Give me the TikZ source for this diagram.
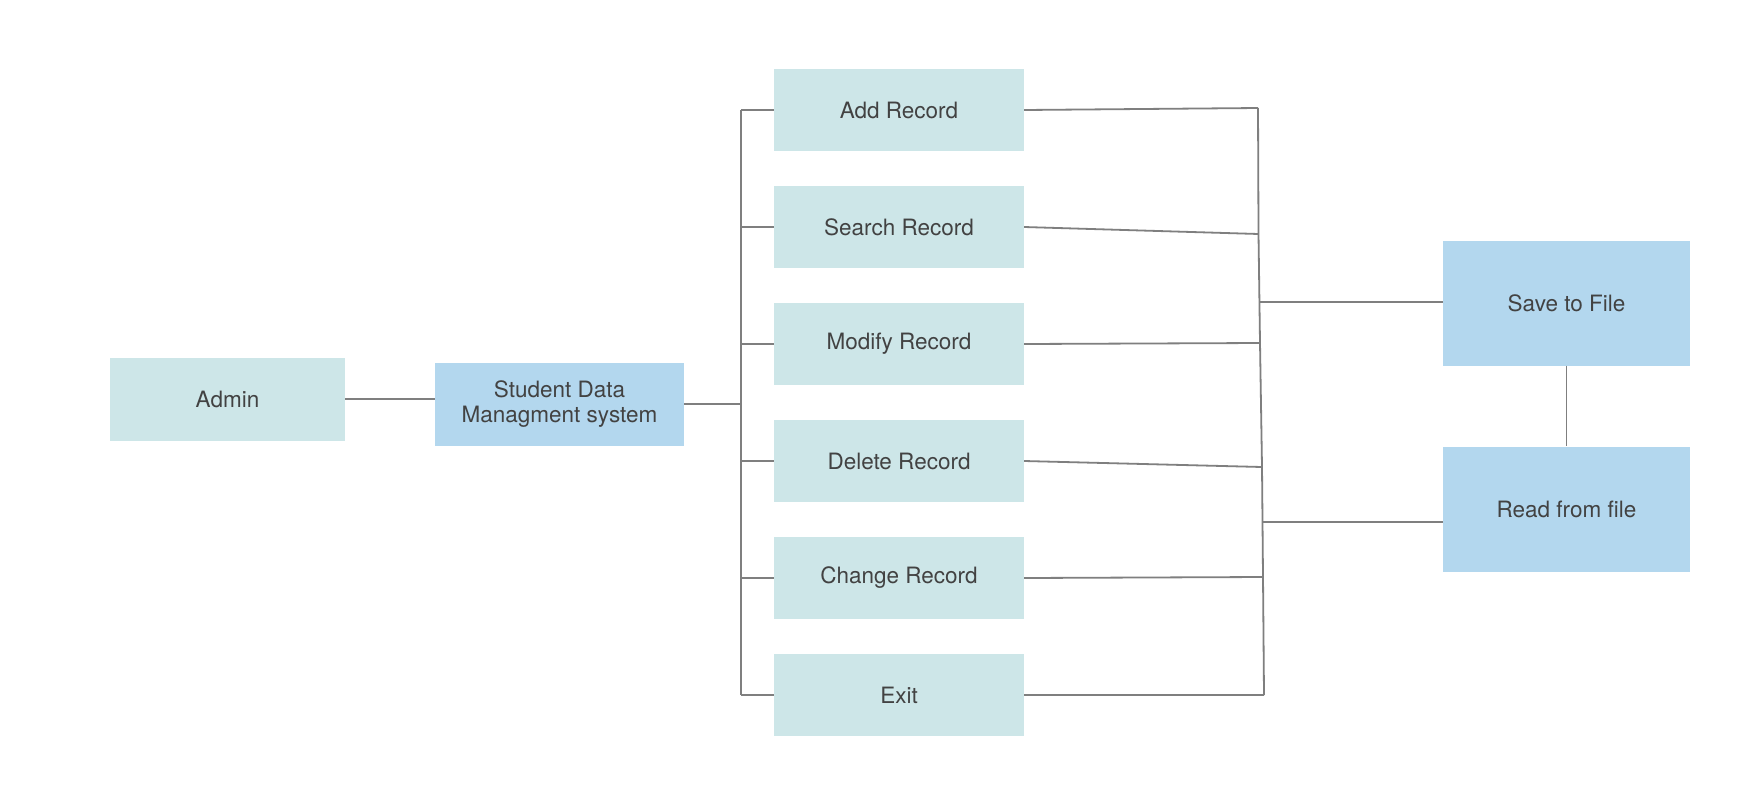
\documentclass[tikz,border=0pt]{standalone}
\usepackage{fontspec}
\setmainfont{TeX Gyre Heros}
\definecolor{teal}{HTML}{CDE6E8}
\definecolor{blu}{HTML}{B3D7EE}
\definecolor{txt}{HTML}{424242}
\definecolor{ln}{HTML}{7F7F7F}
\begin{document}
\begin{tikzpicture}[x=1pt,y=-1pt,
  box/.style={draw=none,fill=teal,minimum width=250pt,minimum height=82pt,inner sep=0pt,
    text=txt,font=\fontsize{22.5pt}{25pt}\selectfont,align=center},
  bbox/.style={box,fill=blu},
  conn/.style={draw=ln,line width=1.8pt}]
\useasboundingbox (0,0) rectangle (1763,801);
\fill[white] (0,0) rectangle (1763,801);
\node[box,minimum width=235pt,minimum height=83pt] (admin) at (227.5,399) {Admin};
\node[bbox,minimum width=249pt,minimum height=83pt] (sdms) at (559.5,404) {Student Data\\Managment system};
\node[box] (add) at (899,110) {Add Record};
\node[box] (search) at (899,227) {Search Record};
\node[box] (modify) at (899,344) {Modify Record};
\node[box] (delete) at (899,461) {Delete Record};
\node[box] (change) at (899,578) {Change Record};
\node[box] (exit) at (899,695) {Exit};
\node[bbox,minimum width=247pt,minimum height=125pt] (save) at (1566.5,303) {Save to File};
\node[bbox,minimum width=247pt,minimum height=125pt] (read) at (1566.5,509) {Read from file};
% left trunk
\coordinate (Lt) at (741,110);
\coordinate (Lb) at (741,695);
\coordinate (Lm) at (741,404);
\draw[conn] (admin.east) -- (admin.east -| sdms.west);
\draw[conn] (sdms.east) -- (Lm);
\draw[conn] (Lt) -- (Lb);
\foreach \n in {add,search,modify,delete,change,exit}
  \draw[conn] (\n.west -| Lt) -- (\n.west);
% right trunk
\coordinate (R1) at (1258,108);
\coordinate (R2) at (1258.5,234);
\coordinate (Rs) at (1259.5,302);
\coordinate (R3) at (1260,343);
\coordinate (R4) at (1262,467);
\coordinate (Rr) at (1263,522);
\coordinate (R5) at (1263,577);
\coordinate (R6) at (1264,695);
\draw[conn] (R1) -- (R2) -- (R3) -- (R4) -- (R5) -- (R6);
\draw[conn] (add.east) -- (R1);
\draw[conn] (search.east) -- (R2);
\draw[conn] (modify.east) -- (R3);
\draw[conn] (delete.east) -- (R4);
\draw[conn] (change.east) -- (R5);
\draw[conn] (exit.east) -- (R6);
\draw[conn] (Rs) -- (Rs -| save.west);
\draw[conn] (Rr) -- (Rr -| read.west);
\draw[conn] (save.south) -- (read.north);
\end{tikzpicture}
\end{document}
